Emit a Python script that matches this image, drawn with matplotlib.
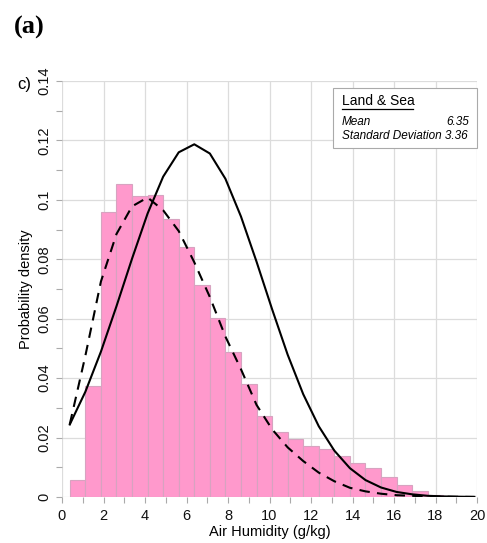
import matplotlib
matplotlib.use("Agg")
import matplotlib.pyplot as plt
from matplotlib.lines import Line2D
import numpy as np

# ---- data ----
bin_left = [0.375, 1.125, 1.875, 2.625, 3.375, 4.125, 4.875, 5.625, 6.375, 7.125,
            7.875, 8.625, 9.375, 10.125, 10.875, 11.625, 12.375, 13.125, 13.875,
            14.625, 15.375, 16.125, 16.875, 17.625, 18.375]
bin_width = 0.75
hist_density = [0.0056, 0.0374, 0.0958, 0.1055, 0.1012, 0.1017, 0.0937, 0.0843,
                0.0714, 0.0603, 0.0488, 0.0379, 0.0271, 0.0219, 0.0194, 0.0173,
                0.0161, 0.0137, 0.0113, 0.0097, 0.0067, 0.0039, 0.0019, 0.0006,
                0.0002]

curve_x = [0.375, 1.125, 1.875, 2.625, 3.375, 4.125, 4.875, 5.625, 6.375, 7.125,
           7.875, 8.625, 9.375, 10.125, 10.875, 11.625, 12.375, 13.125, 13.875,
           14.625, 15.375, 16.125, 16.875, 17.625, 18.375, 19.125, 19.875]
normal_fit = [0.0244, 0.0354, 0.0489, 0.0642, 0.0802, 0.0954, 0.1078, 0.1160,
              0.1187, 0.1156, 0.1071, 0.0944, 0.0792, 0.0632, 0.0479, 0.0346,
              0.0238, 0.0156, 0.0097, 0.0057, 0.0032, 0.0017, 0.0009, 0.0004,
              0.0002, 0.0001, 0.00004]
dashed_fit = [0.0245, 0.0475, 0.0725, 0.0885, 0.0978, 0.1008, 0.0965, 0.0895,
              0.0790, 0.0673, 0.0540, 0.0430, 0.0310, 0.0228, 0.0167, 0.0121,
              0.0082, 0.0053, 0.0031, 0.0019, 0.0011, 0.0006, 0.0004, 0.0002,
              0.0001, 0.00005, 0.00002]

x_ticks = [0, 2, 4, 6, 8, 10, 12, 14, 16, 18, 20]
y_ticks = [0, 0.02, 0.04, 0.06, 0.08, 0.1, 0.12, 0.14]
y_tick_labels = ["0", "0.02", "0.04", "0.06", "0.08", "0.1", "0.12", "0.14"]

legend_title = "Land & Sea"
mean_val = 6.35
sd_val = 3.36

# ---- figure ----
plt.rcParams['font.family'] = ['Liberation Sans', 'DejaVu Sans']
W, H = 487, 543
fig = plt.figure(figsize=(W / 100, H / 100), dpi=100)
ax = fig.add_axes([62 / W, 1 - 497 / H, (477 - 62) / W, (497 - 81) / H])

ax.bar(bin_left, hist_density, width=bin_width, align='edge',
       color='#FF99CC', edgecolor='#D7A3C0', linewidth=0.8, zorder=2)
ax.plot(curve_x, normal_fit, color='black', lw=1.5, zorder=3)
ax.plot(curve_x, dashed_fit, color='black', lw=1.5, dashes=(5, 3.5), zorder=3)

ax.set_xlim(0, 20)
ax.set_ylim(0, 0.14)
ax.set_xticks(x_ticks)
ax.set_xticks(np.arange(0, 21, 1), minor=True)
ax.set_yticks(y_ticks)
ax.set_yticklabels(y_tick_labels, rotation=90, va='center')
ax.set_yticks(np.arange(0, 0.141, 0.01), minor=True)
ax.tick_params(which='both', length=4, color='#AAAAAA', width=0.8,
               labelsize=10.5, labelcolor='#111111')
ax.tick_params(axis='x', pad=5)
ax.tick_params(axis='y', pad=4)
ax.grid(True, which='major', color='#DCDCDC', lw=0.9)
ax.set_axisbelow(True)
for s in ax.spines.values():
    s.set_visible(False)

ax.set_xlabel('Air Humidity (g/kg)', fontsize=10.5, labelpad=1)
ax.set_ylabel('Probability density', fontsize=10.5, labelpad=3)

# legend box
fig.patches.append(plt.Rectangle((333 / W, 1 - 148 / H), (477 - 333) / W, (148 - 88) / H,
                                 transform=fig.transFigure, facecolor='white',
                                 edgecolor='#AAAAAA', lw=0.8, zorder=5))
fig.text(342 / W, 1 - 101 / H, legend_title, fontsize=10, va='center', ha='left', zorder=6)
fig.lines.append(Line2D([342 / W, 413 / W], [1 - 108.5 / H, 1 - 108.5 / H],
                       transform=fig.transFigure, color='black', lw=0.9, zorder=6))
fig.text(342 / W, 1 - 122 / H, 'Mean', fontsize=8.5, style='italic', va='center', zorder=6)
fig.text(469 / W, 1 - 122 / H, f'{mean_val:.2f}', fontsize=8.5, style='italic',
         va='center', ha='right', zorder=6)
fig.text(342 / W, 1 - 136 / H, f'Standard Deviation {sd_val:.2f}', fontsize=8.5,
         style='italic', va='center', zorder=6)

fig.text(14 / W, 1 - 27 / H, '(a)', fontsize=19, fontweight='bold',
         family='Liberation Serif', va='center', ha='left')
fig.text(17 / W, 1 - 85 / H, 'c)', fontsize=12, va='center', ha='left')

fig.savefig('out.png', dpi=100)
